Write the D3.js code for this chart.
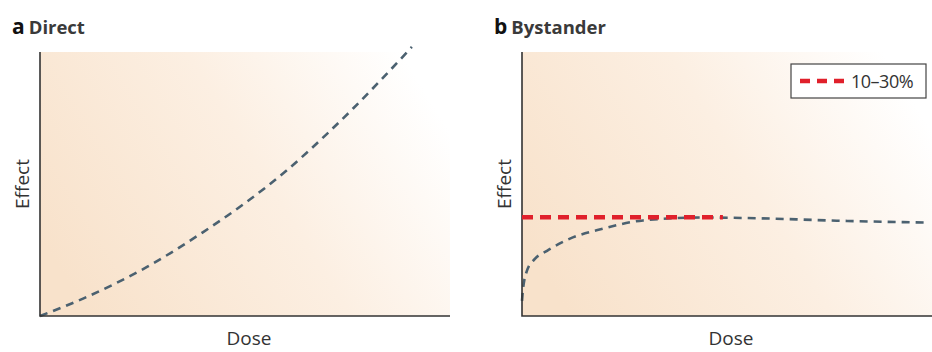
<!DOCTYPE html>
<meta charset="utf-8">
<style>
body { margin: 0; background: #fff; }
.axisLabel { font-family: "Open Sans", sans-serif; font-size: 19px; fill: #333; }
.panelTitle { font-family: "Open Sans", sans-serif; font-weight: 700; font-size: 18.5px; fill: #3a3a3a; }
.panelLetter { font-weight: 700; font-size: 21px; fill: #111; }
.legendText { font-family: "Open Sans", sans-serif; font-size: 18px; fill: #333; letter-spacing: -0.5px; }
</style>
<body>
<script src="https://d3js.org/d3.v7.min.js"></script>
<script>
// direct effect curve (dose, effect), relative units
const directDose   = [0, 0.105, 0.261, 0.398, 0.495, 0.602, 0.700, 0.763, 0.829, 0.907];
const directEffect = [0, 0.066, 0.186, 0.318, 0.422, 0.552, 0.690, 0.785, 0.890, 1.019];

// bystander curve
const bystDose   = [0, 0.002, 0.012, 0.032, 0.061, 0.117, 0.198, 0.295, 0.441, 0.605, 0.768, 0.988];
const bystEffect = [0.057, 0.095, 0.171, 0.217, 0.247, 0.293, 0.331, 0.362, 0.373, 0.369, 0.361, 0.354];

// 10-30% bystander level
const levelDose   = [0, 0.49];
const levelEffect = [0.374, 0.374];
const legendLabel = "10\u201330%";

const width = 932, height = 352;

const svg = d3.select('body')
  .append('svg')
  .attr('width', width)
  .attr('height', height);

const defs = svg.append('defs');
const grad = defs.append('linearGradient')
  .attr('id', 'bg')
  .attr('x1', 0).attr('y1', 0.7)
  .attr('x2', 1).attr('y2', 0.3);
grad.append('stop').attr('offset', 0).attr('stop-color', '#f8e2cb');
grad.append('stop').attr('offset', 0.55).attr('stop-color', '#fcefe2');
grad.append('stop').attr('offset', 1).attr('stop-color', '#ffffff');

function panel(left, letter, title, dose, effect) {
  const x = d3.scaleLinear().domain([0, 1]).range([left, left + 410]);
  const y = d3.scaleLinear().domain([0, 1]).range([316, 52]);
  const g = svg.append('g');

  g.append('rect')
    .attr('x', x(0)).attr('y', y(1))
    .attr('width', x(1) - x(0)).attr('height', y(0) - y(1))
    .attr('fill', 'url(#bg)');

  const line = d3.line()
    .x(function (d, i) { return x(dose[i]); })
    .y(function (d, i) { return y(effect[i]); })
    .curve(d3.curveMonotoneX);

  g.append('path')
    .attr('d', line(dose))
    .attr('fill', 'none')
    .attr('stroke', '#4b6170')
    .attr('stroke-width', 2.6)
    .attr('stroke-dasharray', '8,6');

  // axes: just the two lines, no ticks
  g.append('path')
    .attr('d', 'M' + x(0) + ',' + y(1) + 'V' + y(0) + 'H' + x(1))
    .attr('fill', 'none')
    .attr('stroke', '#333')
    .attr('stroke-width', 1.6);

  const t = g.append('text')
    .attr('class', 'panelTitle')
    .attr('x', left - 28).attr('y', 34);
  t.append('tspan').attr('class', 'panelLetter').text(letter);
  t.append('tspan').attr('dx', 4).text(title);

  g.append('text')
    .attr('class', 'axisLabel')
    .attr('text-anchor', 'middle')
    .attr('x', (x(0) + x(1)) / 2 + 4).attr('y', 345)
    .text('Dose');

  g.append('text')
    .attr('class', 'axisLabel')
    .attr('text-anchor', 'middle')
    .attr('transform', 'translate(' + (left - 11) + ',' + 184 + ') rotate(-90)')
    .text('Effect');

  return {x: x, y: y, g: g};
}

panel(40, 'a', 'Direct', directDose, directEffect);
const b = panel(522, 'b', 'Bystander', bystDose, bystEffect);

const red = '#e0202b';
b.g.append('path')
  .attr('d', d3.line()
    .x(function (d, i) { return b.x(levelDose[i]); })
    .y(function (d, i) { return b.y(levelEffect[i]); })(levelDose))
  .attr('stroke', red)
  .attr('stroke-width', 4.5)
  .attr('stroke-dasharray', '11,7');

// legend
const leg = b.g.append('g').attr('transform', 'translate(791,64)');
leg.append('rect')
  .attr('width', 135).attr('height', 34)
  .attr('fill', '#fff')
  .attr('stroke', '#444')
  .attr('stroke-width', 1.2);
leg.append('line')
  .attr('x1', 9).attr('x2', 55)
  .attr('y1', 17).attr('y2', 17)
  .attr('stroke', red)
  .attr('stroke-width', 4.5)
  .attr('stroke-dasharray', '10,7');
leg.append('text')
  .attr('class', 'legendText')
  .attr('x', 60).attr('y', 24)
  .text(legendLabel);
</script>
</body>
